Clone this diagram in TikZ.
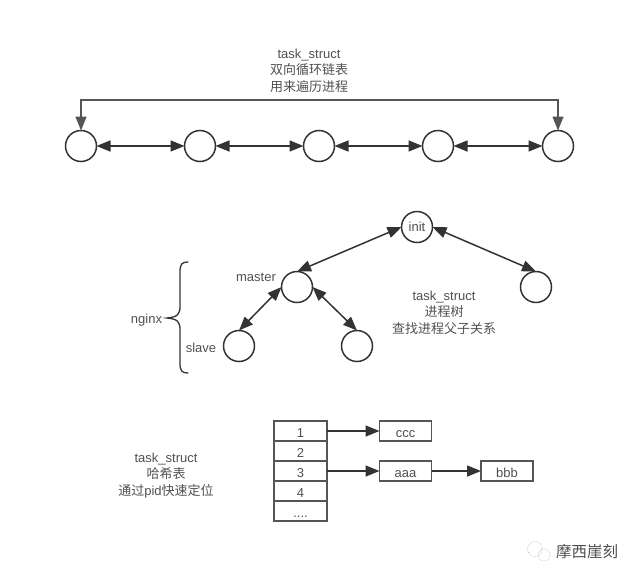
\documentclass[tikz,border=0pt]{standalone}
\usepackage{fontspec}
\setmainfont{Liberation Sans}
\newfontfamily\cjk{Noto Sans CJK SC}
\usetikzlibrary{arrows.meta}
\definecolor{ink}{HTML}{333333}
\definecolor{edge}{HTML}{555555}
\definecolor{txt}{HTML}{505050}
\tikzset{
  x=1pt,y=-1pt,
  circ/.style={circle,draw=ink,line width=1.5pt,minimum size=31pt,inner sep=0pt,outer sep=0pt,fill=white,font=\fontsize{13}{15}\selectfont,text=txt},
  cell/.style={rectangle,draw=edge,line width=1.6pt,minimum width=53pt,minimum height=20pt,inner sep=0pt,outer sep=0pt,text height=12pt,text depth=0pt,font=\fontsize{13}{15}\selectfont,text=txt},
  val/.style={cell,minimum width=52pt},
  lab/.style={align=center,text=txt,font=\fontsize{13}{16.5}\selectfont,inner sep=0pt},
  both/.style={{Triangle[length=14pt,width=11pt]}-{Triangle[length=14pt,width=11pt]},draw=ink,line width=1.5pt},
  one/.style={-{Triangle[length=14pt,width=11pt]},draw=ink,line width=1.5pt},
  loop/.style={both,draw=edge},
}
\begin{document}
\begin{tikzpicture}
\useasboundingbox (0,0) rectangle (639,581);
% top list
\foreach \n/\x in {a/81,b/200,c/319,d/438,e/558}{\node[circ] (\n) at (\x,146) {};}
\draw[both] (a) -- (b);
\draw[both] (b) -- (c);
\draw[both] (c) -- (d);
\draw[both] (d) -- (e);
\coordinate (tl) at (81,100);
\coordinate (tr) at (558,100);
\draw[loop] (e.north) -- (tr) -- (tl) -- (a.north);
\node[lab] (t1) at (309,70.5) {task\_struct\\{\cjk 双向循环链表}\\{\cjk 用来遍历进程}};
% tree
\node[circ] (init) at (417,227) {init};
\node[circ] (master) at (297,287) {};
\node[circ] (r) at (536,287) {};
\node[circ] (slave) at (239,346) {};
\node[circ] (s2) at (357,346) {};
\draw[both] (master.north) -- (init.west);
\draw[both] (init.east) -- (r.north);
\draw[both] (master.west) -- (slave.north);
\draw[both] (master.east) -- (s2.north);
\node[lab] (lm) at (256,277.5) {master};
\node[lab] (ls) at (201,347.5) {slave};
\node[lab] (ln) at (146.5,320) {nginx};
\node[lab] (t2) at (444,312.5) {task\_struct\\{\cjk 进程树}\\{\cjk 查找进程父子关系}};
\coordinate (bt) at (188,262);
\coordinate (bm) at (167,318);
\coordinate (bb) at (188,373);
\draw[ink,line width=1.3pt,line cap=round] (bt) .. controls (182,262) and (180,264) .. (180,272) -- (180,306) .. controls (180,314) and (178,317) .. (bm) .. controls (178,319) and (180,322) .. (180,330) -- (180,363) .. controls (180,371) and (182,373) .. (bb);
% table
\node[cell] (r1) at (300.5,431) {1};
\node[cell] (r2) at (300.5,451) {2};
\node[cell] (r3) at (300.5,471) {3};
\node[cell] (r4) at (300.5,491) {4};
\node[cell] (r5) at (300.5,511) {....};
\node[val] (ccc) at (405.5,431) {ccc};
\node[val] (aaa) at (405.5,471) {aaa};
\node[val] (bbb) at (507,471) {bbb};
\draw[one] (r1) -- (ccc);
\draw[one] (r3) -- (aaa);
\draw[one] (aaa) -- (bbb);
\node[lab] (t3) at (166,475.5) {task\_struct\\{\cjk 哈希表}\\{\cjk 通过}pid{\cjk 快速定位}};
% watermark
\draw[gray!70,densely dotted,line width=0.5pt] (535,549) circle (7.5);
\draw[gray!70,densely dotted,line width=0.5pt] (544,555) circle (6);
\node[inner sep=0pt,text=black!70,font=\cjk\fontsize{15.5}{17}\selectfont] (wm) at (587,552) {摩西崖刻};
\end{tikzpicture}
\end{document}
